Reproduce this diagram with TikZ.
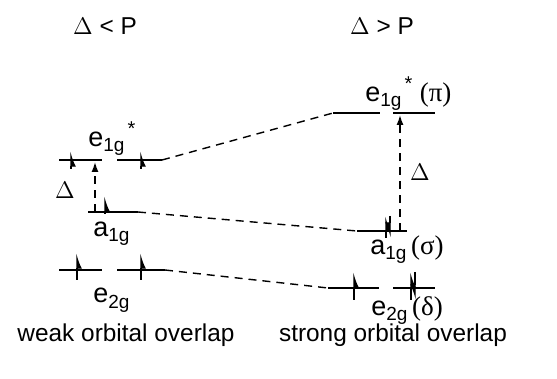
\documentclass[tikz,border=0pt]{standalone}
\usepackage{fontspec}
\setmainfont{Liberation Sans}
\newfontfamily\greekfont{Liberation Serif}
\usetikzlibrary{arrows.meta}

\newcommand\orbsub[1]{\raisebox{-2.5pt}{\fontsize{9.5}{11}\selectfont #1}}
\newcommand\orbstar{\kern1.5pt\raisebox{5.5pt}{\fontsize{10}{11}\selectfont *}}
\newcommand\orbsym[1]{{\greekfont (#1)}}

\tikzset{
  level/.style={line width=1pt},
  corr/.style={line width=0.7pt, dash pattern=on 4pt off 3pt},
  spin/.style={line width=0.7pt, -{Latex[right,length=6.5pt,width=5pt]}},
  gap/.style={corr, -{Latex[length=5pt,width=3.5pt]}},
  lbl/.style={inner sep=0pt, font=\fontsize{12.2}{15}\selectfont},
  orb/.style={inner sep=0pt, anchor=base west, font=\fontsize{13.5}{16}\selectfont},
}

\begin{document}
\begin{tikzpicture}[x=0.5pt,y=-0.5pt]
    \useasboundingbox (0,0) rectangle (557,379);

    % headings
    \node[lbl] (weakP) at (105,26) {$\Delta$ < P};
    \node[lbl] (strongP) at (382,26) {$\Delta$ > P};

    % Weak overlap levels
    \draw[level] (59,160) -- (102,160);
    \draw[level] (117,160) -- (162,160) coordinate (le1g);
    \draw[level] (88,212) coordinate (la1gL) -- (138,212) coordinate (la1g);
    \draw[level] (59,270) -- (102,270);
    \draw[level] (117,270) -- (165,270) coordinate (le2g);

    \foreach \x in {71,141}
        \draw[spin] (\x,169) -- (\x,151);
    \draw[spin] (105,214) -- (105,196);
    \foreach \x in {77,141}
        \draw[spin] (\x,280) -- (\x,253);

    % Strong overlap levels
    \draw[level] (333,113) coordinate (re1g) -- (380,113);
    \draw[level] (393,113) -- (435,113);
    \draw[level] (357,231) coordinate (ra1g) -- (407,231);
    \draw[level] (328,288) coordinate (re2g) -- (379,288);
    \draw[level] (393,288) -- (435,288);

    \draw[spin] (386,238) -- (386,216);
    \draw[spin] (390,216) -- (390,238);
    \draw[spin] (354,300) -- (354,272);
    \draw[spin] (411,300) -- (411,272);
    \draw[spin] (415,272) -- (415,300);

    % splitting
    \coordinate (lgapA) at (95,212);
    \coordinate (lgapB) at (95,162);
    \coordinate (rgapA) at (400,231);
    \coordinate (rgapB) at (400,115);
    \draw[gap] (lgapA) -- (lgapB);
    \draw[gap] (rgapA) -- (rgapB);
    \node[lbl] (ldelta) at (65,190) {$\Delta$};
    \node[lbl] (rdelta) at (420,172) {$\Delta$};

    % correlation lines
    \draw[corr] (le1g) -- (re1g);
    \draw[corr] (la1g) -- (ra1g);
    \draw[corr] (le2g) -- (re2g);

    % orbital labels
    \node[orb] (le1glbl) at (88,147) {e\orbsub{1g}\orbstar};
    \node[orb] (la1glbl) at (93,237) {a\orbsub{1g}};
    \node[orb] (le2glbl) at (93,303) {e\orbsub{2g}};
    \node[orb] (re1glbl) at (365,102) {e\orbsub{1g}\orbstar\ \orbsym{π}};
    \node[orb] (ra1glbl) at (370,255) {a\orbsub{1g}\,\orbsym{σ}};
    \node[orb] (re2glbl) at (371,315) {e\orbsub{2g}\,\orbsym{δ}};

    % captions
    \node[lbl] (weak) at (126,335) {weak orbital overlap};
    \node[lbl] (strong) at (393,335) {strong orbital overlap};
\end{tikzpicture}
\end{document}
